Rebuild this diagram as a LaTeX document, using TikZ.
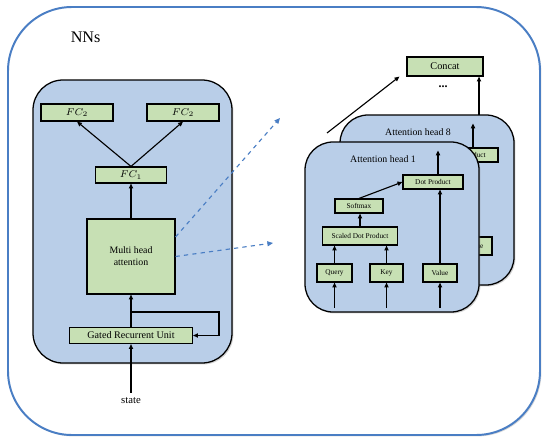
\documentclass[tikz,border=0pt]{standalone}
\usepackage{fontspec}
\setmainfont{Liberation Serif}
\usetikzlibrary{arrows.meta,shadows}
\definecolor{nnblue}{RGB}{74,126,196}
\definecolor{panelblue}{RGB}{185,206,232}
\definecolor{boxgreen}{RGB}{199,224,180}
\tikzset{
	layer/.style={draw=black, line width=0.9pt, fill=panelblue, rounded corners=0.7cm,
		drop shadow={shadow xshift=1pt, shadow yshift=-1pt, opacity=0.35}},
	block/.style={draw=black, line width=0.8pt, fill=boxgreen, inner sep=0pt},
	tinytext/.style={font=\fontsize{5.2}{6}\selectfont},
	arr/.style={line width=0.8pt, -{Triangle[length=3.5pt,width=3pt]}},
	link/.style={nnblue, dashed, line width=0.8pt, -{Triangle[length=4pt,width=3.5pt]}}
}

\begin{document}
\begin{tikzpicture}
		%%%%% START %%%%%
		\useasboundingbox (0, 0) rectangle (13.75, 11.075);
		
		\draw[nnblue, line width=1.4pt, fill=white, rounded corners=1.6cm,
			drop shadow={shadow xshift=1pt, shadow yshift=-1pt, opacity=0.3}] (0.2, 0.2) rectangle (13.5, 10.9);
		\node[font=\fontsize{11.5}{13}\selectfont] (nns) at (2.14, 10.14) {NNs};
		
		%%%%% LEFT PANEL %%%%%
		\draw[layer, rounded corners=0.75cm] (0.825, 2.0) rectangle (5.8, 9.075);
		
		\node[block, font=\fontsize{7}{8}\selectfont, minimum width=1.8cm, minimum height=0.425cm] (fcleft) at (1.925, 8.2625) {$FC_2$};
		\node[block, font=\fontsize{7}{8}\selectfont, minimum width=1.8cm, minimum height=0.425cm] (fcright) at (4.575, 8.2625) {$FC_2$};
		\node[block, font=\fontsize{7}{8}\selectfont, minimum width=1.775cm, minimum height=0.4cm] (fc) at (3.275, 6.7) {$FC_1$};
		\node[block, font=\fontsize{7}{8.5}\selectfont, align=center, minimum width=2.2cm, minimum height=1.875cm] (mha) at (3.275, 4.6625) {Multi head\\attention};
		\node[block, font=\fontsize{7.2}{8}\selectfont, minimum width=3.075cm, minimum height=0.4cm] (gru) at (3.275, 2.6875) {Gated Recurrent Unit};
		\node[font=\fontsize{7.6}{8}\selectfont] (state) at (3.275, 1.05) {state};
		
		\draw[arr] (fc.north) -- (fcleft.south);
		\draw[arr] (fc.north) -- (fcright.south);
		\draw[arr] (mha.north) -- (fc.south);
		\draw[arr] (gru.north) -- (mha.south);
		\draw[arr] (state.north) -- (gru.south);
		
		\coordinate (split) at (3.275, 3.275);
		\coordinate (back) at (5.475, 3.275);
		\draw[arr] (split) -- (back) |- (gru.east);
		
		\coordinate (tohead) at (7.0, 8.125);
		\coordinate (toheadlow) at (6.825, 5.0);
		\draw[link] ([yshift=0.49cm]mha.east) -- (tohead);
		\draw[link] (mha.east) -- (toheadlow);
		
		%%%%% ATTENTION HEAD 8 (behind) %%%%%
		\begin{scope}[shift={(0.875, 0.675)}]
			\draw[layer] (7.625, 3.275) rectangle (11.975, 7.525);
			\node[font=\fontsize{7}{8}\selectfont] (titleb) at (9.575, 7.1) {Attention head 8};
			\node[block, tinytext, minimum width=1.5cm, minimum height=0.35cm] (dotb) at (10.825, 6.525) {Dot Product};
			\node[block, tinytext, minimum width=0.85cm, minimum height=0.45cm] (valueb) at (11.0, 4.25) {Value};
			\draw[arr] ([xshift=-0.05cm]valueb.north |- dotb.north) -- ++(0, 0.6);
		\end{scope}
		
		%%%%% ATTENTION HEAD 1 %%%%%
		\draw[layer] (7.625, 3.275) rectangle (11.975, 7.525);
		\node[font=\fontsize{7}{8}\selectfont] (titlea) at (9.575, 7.1) {Attention head 1};
		\node[block, tinytext, minimum width=1.5cm, minimum height=0.35cm] (dota) at (10.825, 6.525) {Dot Product};
		\node[block, tinytext, minimum width=1.2cm, minimum height=0.35cm] (softa) at (8.975, 5.925) {Softmax};
		\node[block, tinytext, minimum width=1.875cm, minimum height=0.45cm] (sdpa) at (9.0, 5.175) {Scaled Dot Product};
		\node[block, tinytext, minimum width=0.875cm, minimum height=0.45cm] (querya) at (8.3625, 4.25) {Query};
		\node[block, tinytext, minimum width=0.825cm, minimum height=0.45cm] (keya) at (9.6625, 4.25) {Key};
		\node[block, tinytext, minimum width=0.85cm, minimum height=0.45cm] (valuea) at (11.0, 4.25) {Value};
		
		\draw[arr] (softa.north) -- (dota.west);
		\draw[arr] (sdpa.north) -- (sdpa.north |- softa.south);
		\draw[arr] (querya.north) -- (querya.north |- sdpa.south);
		\draw[arr] (keya.north) -- (keya.north |- sdpa.south);
		\draw[arr] (valuea.north) -- (valuea.north |- dota.south);
		\draw[arr] ([xshift=-0.05cm]valuea.north |- dota.north) -- ++(0, 0.6);
		\draw[arr] ([yshift=-0.625cm]querya.south) -- (querya.south);
		\draw[arr] ([yshift=-0.625cm]keya.south) -- (keya.south);
		\draw[arr] ([yshift=-0.625cm]valuea.south) -- (valuea.south);
		
		%%%%% CONCAT %%%%%
		\node[block, font=\fontsize{7.3}{8}\selectfont, minimum width=1.9cm, minimum height=0.475cm] (concat) at (11.125, 9.4125) {Concat};
		\node[font=\fontsize{8.5}{9}\selectfont\bfseries] (dots) at (11.075, 8.9) {...};
		
		\coordinate (headout) at (8.175, 7.75);
		\coordinate (headoutb) at (11.975, 8.2);
		\draw[arr] (headout) -- ([xshift=-0.175cm]concat.south west);
		\draw[arr] (headoutb) -- (headoutb |- concat.south);
		%%%%% END %%%%%
	\end{tikzpicture}
\end{document}
